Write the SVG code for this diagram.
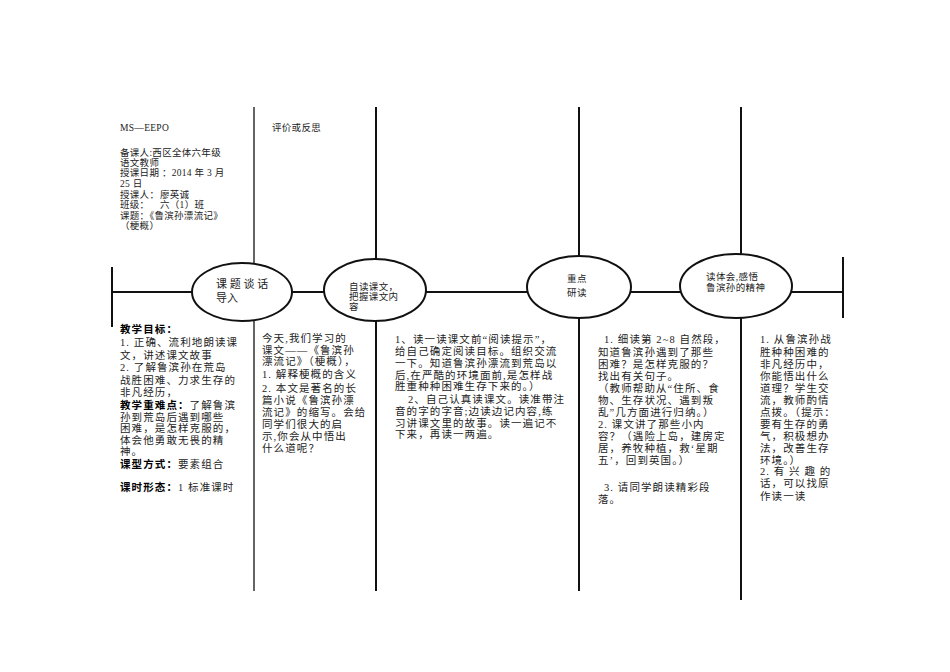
<svg xmlns="http://www.w3.org/2000/svg" width="950" height="672" viewBox="0 0 950 672">
<style>
.ln{stroke:#111;stroke-width:2;fill:none}
.el{stroke:#111;stroke-width:2;fill:#fff}
text{font-family:"Liberation Serif","Noto Sans CJK SC",serif;fill:#222}
.h{font-size:9.5px;letter-spacing:0.3px}
.c{font-size:10.5px;letter-spacing:1.1px}
.b{font-family:"Noto Sans CJK SC","Liberation Sans",sans-serif;font-weight:bold;fill:#000}
.e{font-size:9.5px;letter-spacing:0.4px}
</style>
<rect width="950" height="672" fill="#fff"/>
<g id="connectors">
<line class="ln" x1="254" y1="107" x2="254" y2="591" style="stroke-width:1.3"/>
<line class="ln" x1="376" y1="107" x2="376" y2="591"/>
<line class="ln" x1="579" y1="107" x2="579" y2="591"/>
<line class="ln" x1="741" y1="107" x2="741" y2="600"/>
<line class="ln" x1="112" y1="267" x2="112" y2="327"/>
<line class="ln" x1="843" y1="257" x2="843" y2="318"/>
<line class="ln" x1="112" y1="292" x2="843" y2="292"/>
</g>
<g id="header">
<text class="h" x="120" y="131">MS—EEPO</text>
<text class="h" x="120" y="156">备课人:西区全体六年级</text>
<text class="h" x="120" y="166">语文教师</text>
<text class="h" x="120" y="176">授课日期 ：2014 年 3 月</text>
<text class="h" x="120" y="187">25 日</text>
<text class="h" x="120" y="198">授课人：</text>
<text class="h" x="160" y="198">廖英诚</text>
<text class="h" x="120" y="208">班级：</text>
<text class="h" x="160" y="208">六（1）班</text>
<text class="h" x="120" y="219">课题：《鲁滨孙漂流记》</text>
<text class="h" x="120" y="229">（梗概）</text>
<text class="h" x="272" y="131">评价或反思</text>
</g>
<g id="node1">
<ellipse class="el" cx="242" cy="292" rx="50" ry="29"/>
<text x="216" y="288" style="font-size:11px">课 题 谈 话</text>
<text x="216" y="302" style="font-size:11px">导入</text>
</g>
<g id="node2">
<ellipse class="el" cx="375" cy="290" rx="51" ry="31"/>
<text class="e" x="349" y="290">自读课文，</text>
<text class="e" x="349" y="300">把握课文内</text>
<text class="e" x="349" y="310">容</text>
</g>
<g id="node3">
<ellipse class="el" cx="579" cy="287" rx="52" ry="31"/>
<text class="e" x="567" y="282">重点</text>
<text class="e" x="567" y="296">研读</text>
</g>
<g id="node4">
<ellipse class="el" cx="736" cy="286" rx="56" ry="32"/>
<text class="e" x="706" y="280">读体会,感悟</text>
<text class="e" x="706" y="291">鲁滨孙的精神</text>
</g>
<g id="col1">
<text class="c b" x="120" y="333">教学目标：</text>
<text class="c" x="120" y="346">1. 正确、流利地朗读课</text>
<text class="c" x="120" y="359">文，讲述课文故事</text>
<text class="c" x="120" y="371">2. 了解鲁滨孙在荒岛</text>
<text class="c" x="120" y="384">战胜困难、力求生存的</text>
<text class="c" x="120" y="396">非凡经历，</text>
<text class="c" x="120" y="409"><tspan class="b">教学重难点：</tspan>了解鲁滨</text>
<text class="c" x="120" y="421">孙到荒岛后遇到哪些</text>
<text class="c" x="120" y="432">困难，是怎样克服的，</text>
<text class="c" x="120" y="444">体会他勇敢无畏的精</text>
<text class="c" x="120" y="455">神。</text>
<text class="c" x="120" y="468"><tspan class="b">课型方式：</tspan>要素组合</text>
<text class="c" x="120" y="491"><tspan class="b">课时形态：</tspan>1 标准课时</text>
</g>
<g id="col2">
<text class="c" x="262" y="342">今天,我们学习的</text>
<text class="c" x="262" y="354">课文——《鲁滨孙</text>
<text class="c" x="262" y="365">漂流记》（梗概），</text>
<text class="c" x="262" y="378">1. 解释梗概的含义</text>
<text class="c" x="262" y="392">2. 本文是著名的长</text>
<text class="c" x="262" y="404">篇小说《鲁滨孙漂</text>
<text class="c" x="262" y="416">流记》的缩写。会给</text>
<text class="c" x="262" y="428">同学们很大的启</text>
<text class="c" x="262" y="440">示,你会从中悟出</text>
<text class="c" x="262" y="452">什么道呢？</text>
</g>
<g id="col3">
<text class="c" x="395" y="343">1、读一读课文前“阅读提示”，</text>
<text class="c" x="395" y="355">给自己确定阅读目标。组织交流</text>
<text class="c" x="395" y="367">一下。知道鲁滨孙漂流到荒岛以</text>
<text class="c" x="395" y="379">后,在严酷的环境面前,是怎样战</text>
<text class="c" x="395" y="390">胜重种种困难生存下来的。）</text>
<text class="c" x="408" y="403">2、自己认真读课文。读准带注</text>
<text class="c" x="395" y="415">音的字的字音;边读边记内容,练</text>
<text class="c" x="395" y="427">习讲课文里的故事。读一遍记不</text>
<text class="c" x="395" y="438">下来，再读一两遍。</text>
</g>
<g id="col4">
<text class="c" x="604" y="343">1. 细读第 2~8 自然段，</text>
<text class="c" x="598" y="356">知道鲁滨孙遇到了那些</text>
<text class="c" x="598" y="368">困难？是怎样克服的？</text>
<text class="c" x="598" y="380">找出有关句子。</text>
<text class="c" x="598" y="392">（教师帮助从“住所、食</text>
<text class="c" x="598" y="404">物、生存状况、遇到叛</text>
<text class="c" x="598" y="416">乱”几方面进行归纳。）</text>
<text class="c" x="598" y="428">2. 课文讲了那些小内</text>
<text class="c" x="598" y="440">容？（遇险上岛，建房定</text>
<text class="c" x="598" y="452">居，养牧种植，救‘星期</text>
<text class="c" x="598" y="464">五’，回到英国。）</text>
<text class="c" x="604" y="491">3. 请同学朗读精彩段</text>
<text class="c" x="598" y="503">落。</text>
</g>
<g id="col5">
<text class="c" x="760" y="343">1. 从鲁滨孙战</text>
<text class="c" x="760" y="356">胜种种困难的</text>
<text class="c" x="760" y="368">非凡经历中，</text>
<text class="c" x="760" y="380">你能悟出什么</text>
<text class="c" x="760" y="392">道理？学生交</text>
<text class="c" x="760" y="404">流，教师酌情</text>
<text class="c" x="760" y="416">点拨。（提示：</text>
<text class="c" x="760" y="428">要有生存的勇</text>
<text class="c" x="760" y="440">气，积极想办</text>
<text class="c" x="760" y="452">法，改善生存</text>
<text class="c" x="760" y="464">环境。）</text>
<text class="c" x="760" y="475">2. 有 兴 趣 的</text>
<text class="c" x="760" y="487">话，可以找原</text>
<text class="c" x="760" y="500">作读一读</text>
</g>
</svg>
